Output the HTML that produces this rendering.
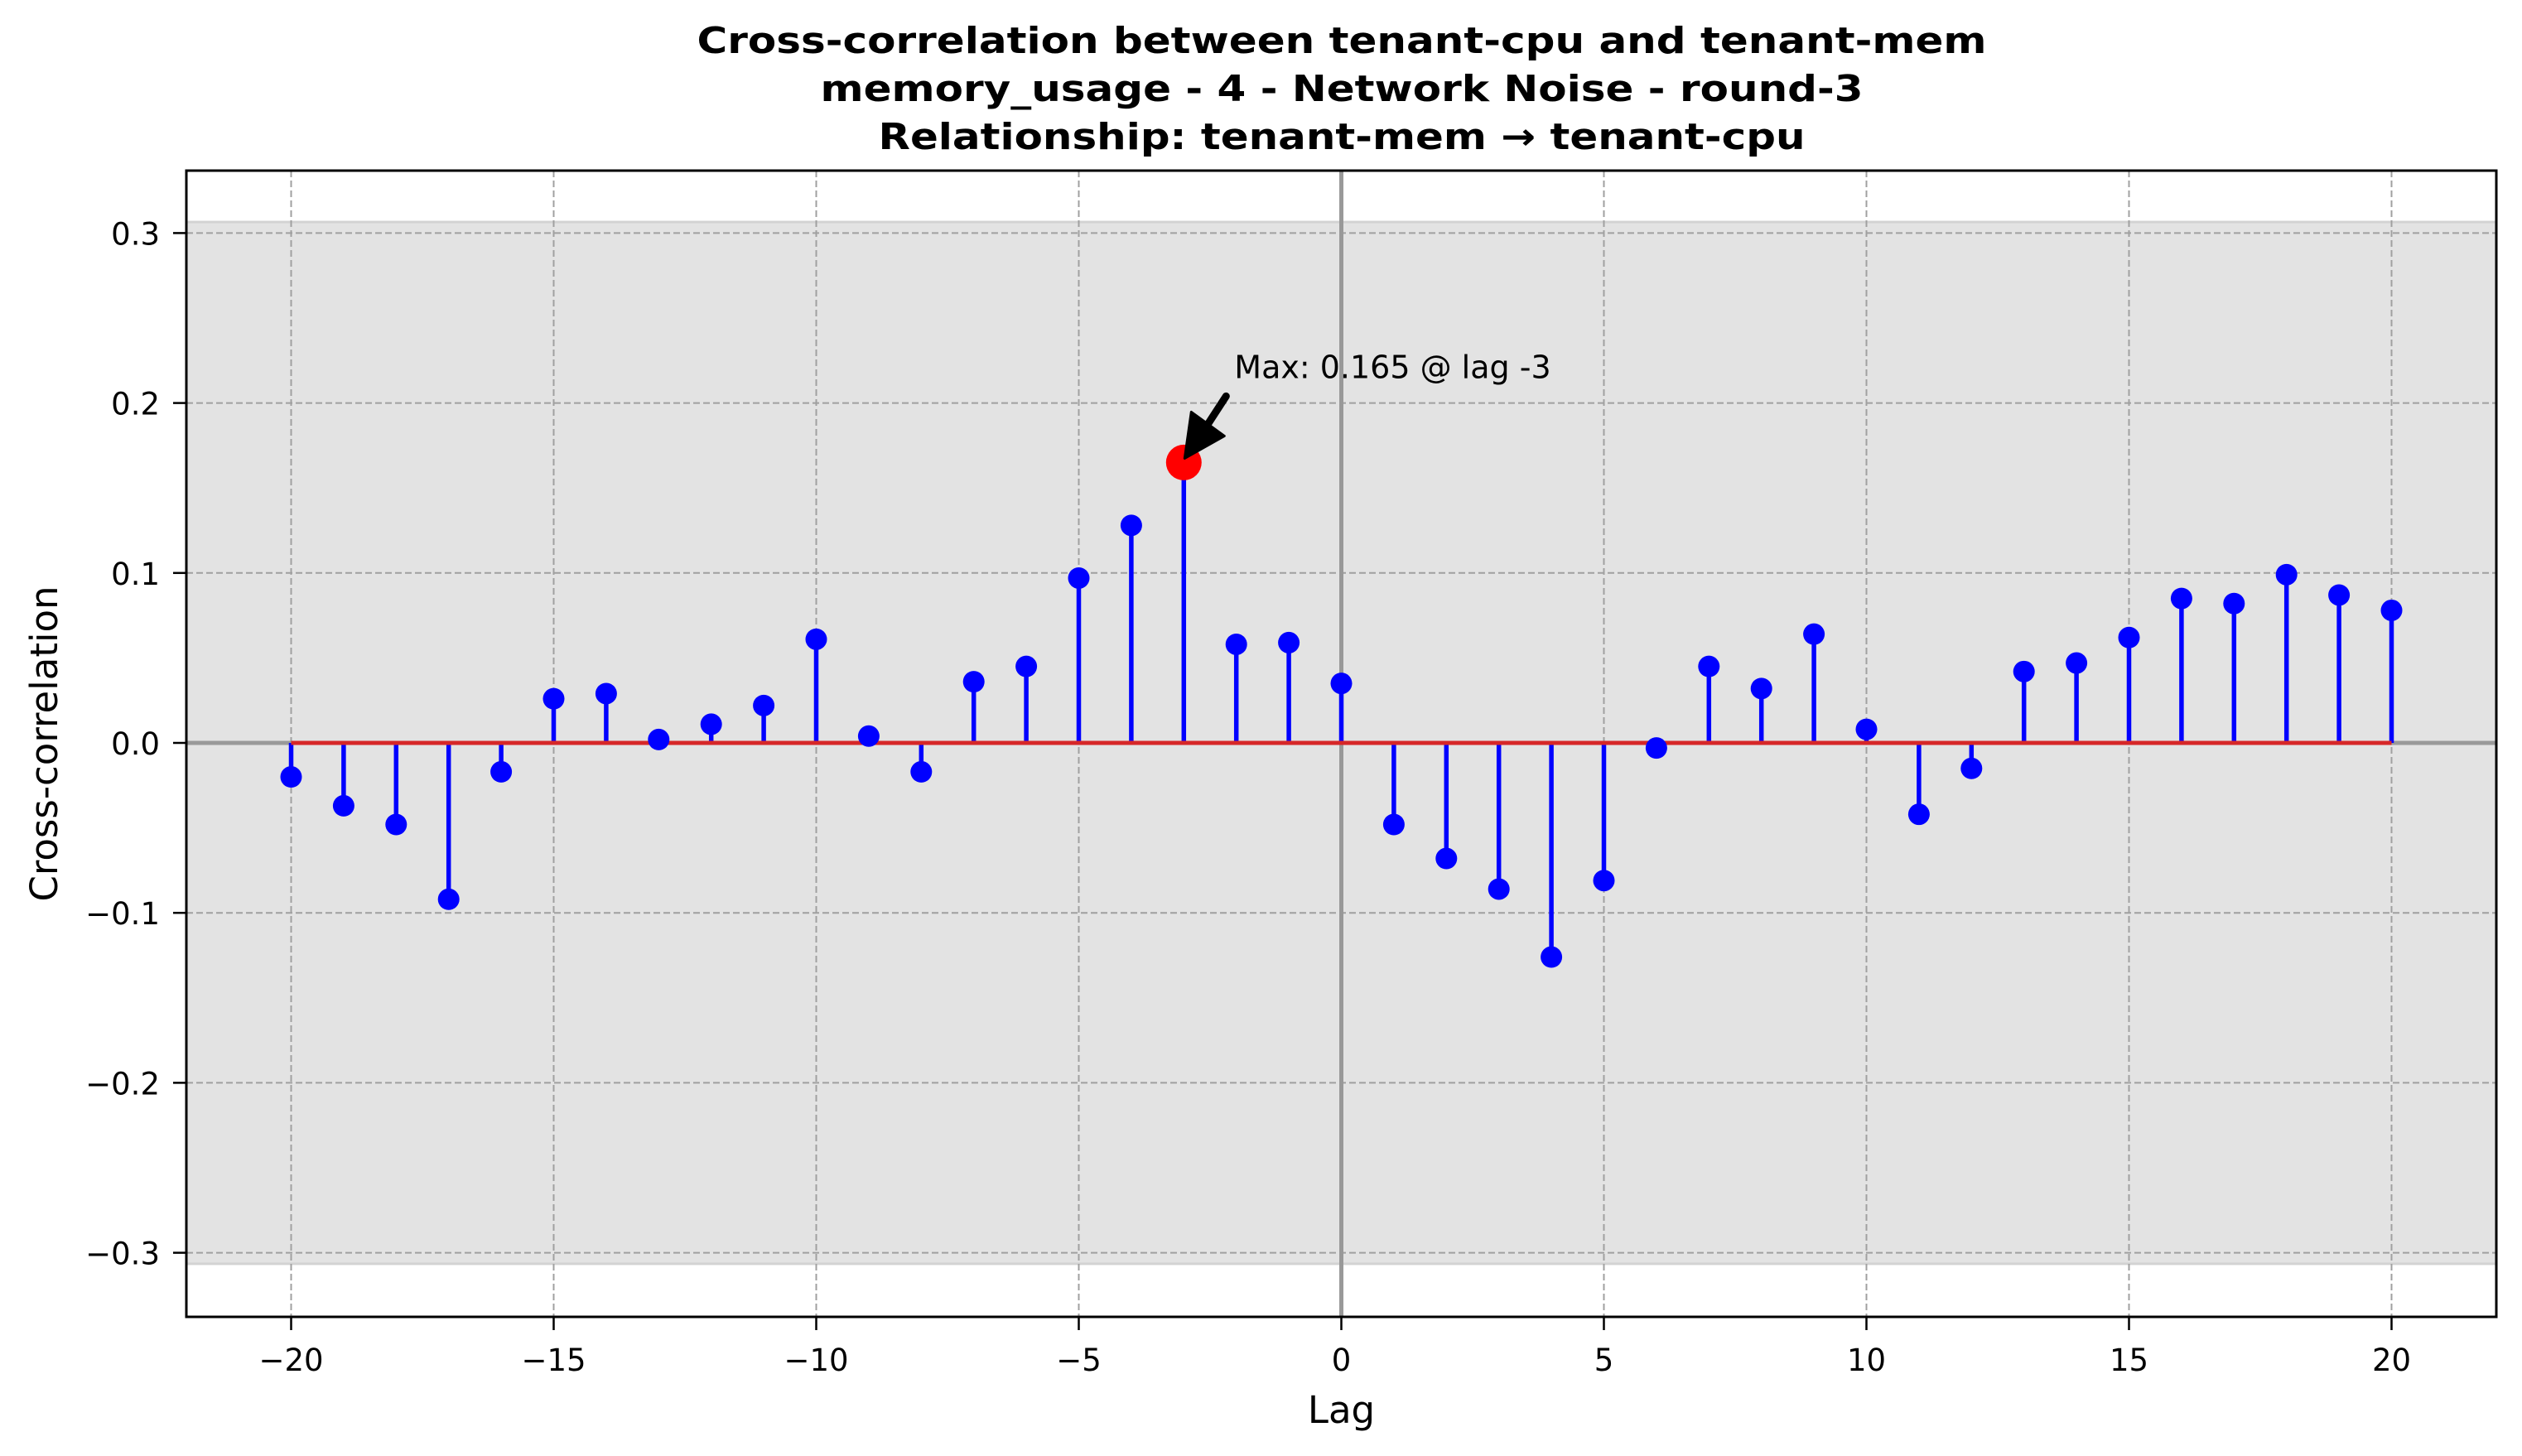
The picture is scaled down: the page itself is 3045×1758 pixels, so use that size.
<!DOCTYPE html>
<html><head><meta charset="utf-8"><style>
html,body{margin:0;padding:0;background:#fff;}
svg{display:block;font-family:"DejaVu Sans","Liberation Sans",sans-serif;}
</style></head><body>
<svg id="chart" width="3045" height="1758" viewBox="0 0 3045 1758" xmlns="http://www.w3.org/2000/svg">
<rect width="3045" height="1758" fill="#fff"/>
<g font-weight="bold" font-size="44" text-anchor="middle" fill="#000">
<text x="1620" y="64" textLength="1557" lengthAdjust="spacingAndGlyphs">Cross-correlation between tenant-cpu and tenant-mem</text>
<text x="1620" y="122" textLength="1259" lengthAdjust="spacingAndGlyphs">memory_usage - 4 - Network Noise - round-3</text>
<text x="1620" y="180" textLength="1119" lengthAdjust="spacingAndGlyphs">Relationship: tenant-mem → tenant-cpu</text>
</g>
<g id="plot"></g>
</svg>
<script>
const lags = [-20,-19,-18,-17,-16,-15,-14,-13,-12,-11,-10,-9,-8,-7,-6,-5,-4,-3,-2,-1,0,1,2,3,4,5,6,7,8,9,10,11,12,13,14,15,16,17,18,19,20];
const corrValues = [-0.020,-0.037,-0.048,-0.092,-0.017,0.026,0.029,0.002,0.011,0.022,0.061,0.004,-0.017,0.036,0.045,0.097,0.128,0.165,0.058,0.059,0.035,-0.048,-0.068,-0.086,-0.126,-0.081,-0.003,0.045,0.032,0.064,0.008,-0.042,-0.015,0.042,0.047,0.062,0.085,0.082,0.099,0.087,0.078];
const xTicks = [-20,-15,-10,-5,0,5,10,15,20];
const xTickLabels = ["−20","−15","−10","−5","0","5","10","15","20"];
const yTicks = [-0.3,-0.2,-0.1,0.0,0.1,0.2,0.3];
const yTickLabels = ["−0.3","−0.2","−0.1","0.0","0.1","0.2","0.3"];
const confBound = [0.3065];

const L=225,R=3014,T=206,B=1590;
const X=v=>351.5+(v+20)*63.4;
const Y=v=>897-v*2052;
const NS="http://www.w3.org/2000/svg";
const g=document.getElementById('plot');
function mk(tag,attrs,parent){const e=document.createElementNS(NS,tag);for(const k in attrs)e.setAttribute(k,attrs[k]);(parent||g).appendChild(e);return e;}

let band=mk('rect',{x:L,y:Y(confBound[0]),width:R-L,height:Y(-confBound[0])-Y(confBound[0]),fill:'#e3e3e3',stroke:'#d3d3d3','stroke-width':3});


xTicks.forEach(t=>{const l=mk('line',{x1:X(t),x2:X(t),y1:T,y2:B,stroke:'#a0a0a0','stroke-width':2,'stroke-dasharray':'8,4'});

});
yTicks.forEach(t=>{const l=mk('line',{x1:L,x2:R,y1:Y(t),y2:Y(t),stroke:'#a0a0a0','stroke-width':2,'stroke-dasharray':'8,4'});

});
let zv=mk('line',{x1:X(0),x2:X(0),y1:T,y2:B,stroke:'#999','stroke-width':5});


let zh=mk('line',{x1:L,x2:R,y1:Y(0),y2:Y(0),stroke:'#999','stroke-width':5});


lags.forEach((lag,i)=>{const s=mk('line',{x1:X(lag),x2:X(lag),y1:Y(0),y2:Y(corrValues[i]),stroke:'#0000ff','stroke-width':5.5});

});
let base=mk('line',{x1:X(lags[0]),x2:X(lags[lags.length-1]),y1:Y(0),y2:Y(0),stroke:'#d62728','stroke-width':5});


lags.forEach((lag,i)=>{const c=mk('circle',{cx:X(lag),cy:Y(corrValues[i]),r:13,fill:'#0000ff'});

});
let mi=0;corrValues.forEach((v,i)=>{if(v>corrValues[mi])mi=i;});
const mx=X(lags[mi]),my=Y(corrValues[mi]);
let mc=mk('circle',{cx:mx,cy:my,r:21.5,fill:'#ff0000'});


let ar=mk('line',{x1:mx+51,y1:my-80,x2:mx+25,y2:my-40,stroke:'#000','stroke-width':9,'stroke-linecap':'round'});


let ah=mk('polygon',{points:`${mx+1},${my-5} ${mx+9},${my-61} ${mx+49},${my-32}`,fill:'#000',stroke:'#000','stroke-width':3,'stroke-linejoin':'round'});


let at=mk('text',{x:mx+61,y:my-102,'font-size':38,fill:'#000'});
at.textContent='Max: '+corrValues[mi].toFixed(3)+' @ lag '+lags[mi];


let fr=mk('rect',{x:L,y:T,width:R-L,height:B-T,fill:'none',stroke:'#000','stroke-width':3});


xTicks.forEach((t,i)=>{mk('line',{x1:X(t),x2:X(t),y1:B,y2:B+16,stroke:'#000','stroke-width':2.5});
const tx=mk('text',{x:X(t),y:1655,'font-size':37,'text-anchor':'middle',fill:'#000'});tx.textContent=xTickLabels[i];

});
yTicks.forEach((t,i)=>{mk('line',{x1:L-16,x2:L,y1:Y(t),y2:Y(t),stroke:'#000','stroke-width':2.5});
const tx=mk('text',{x:193,y:Y(t)+14,'font-size':37,'text-anchor':'end',fill:'#000'});tx.textContent=yTickLabels[i];

});
let xl=mk('text',{x:(L+R)/2,y:1718,'font-size':45,'text-anchor':'middle',fill:'#000'});xl.textContent='Lag';


let yl=mk('text',{x:0,y:0,'font-size':45,'text-anchor':'middle',fill:'#000',transform:`translate(69,${(T+B)/2}) rotate(-90)`});yl.textContent='Cross-correlation';


</script>
</body></html>
